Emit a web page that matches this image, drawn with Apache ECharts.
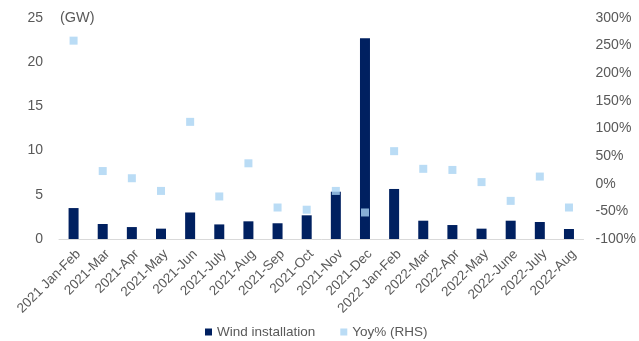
<!DOCTYPE html>
<html>
<head>
<meta charset="utf-8">
<script src="https://cdn.jsdelivr.net/npm/echarts@6/dist/echarts.min.js"></script>
<style>
  html, body { margin: 0; padding: 0; background: #ffffff; }
  #chart { width: 639px; height: 341px; }
</style>
</head>
<body>
<div id="chart"></div>
<script>
// Monthly wind installations (GW) and year-on-year change (%)
const categories = [
  '2021 Jan-Feb', '2021-Mar', '2021-Apr', '2021-May', '2021-Jun', '2021-July',
  '2021-Aug', '2021-Sep', '2021-Oct', '2021-Nov', '2021-Dec', '2022 Jan-Feb',
  '2022-Mar', '2022-Apr', '2022-May', '2022-June', '2022-July', '2022-Aug'
];
const windInstallation = [3.5, 1.7, 1.35, 1.17, 3.0, 1.65, 2.0, 1.78, 2.68, 5.35, 22.7, 5.66, 2.07, 1.58, 1.17, 2.07, 1.92, 1.13];
const yoyPct = [259, 23, 10, -13, 112, -23, 37, -43, -47, -13, -52, 59, 27, 25, 3, -31, 13, -43];

const leftTicks = { min: 0, max: 25, interval: 5 };
const rightTicks = { min: -100, max: 300, interval: 50 };

const textColor = '#595959';
const fontFamily = '"Liberation Sans", Arial, sans-serif';

const chart = echarts.init(document.getElementById('chart'), null, { renderer: 'canvas' });
chart.setOption({
  animation: false,
  backgroundColor: '#ffffff',
  textStyle: { fontFamily: fontFamily, color: textColor },
  grid: { left: 59, right: 51, top: 18, bottom: 102, containLabel: false },
  legend: {
    left: 200,
    top: 320,
    itemWidth: 7,
    itemHeight: 7,
    itemGap: 25,
    icon: 'rect',
    textStyle: { fontSize: 13.5, color: textColor, fontFamily: fontFamily },
    data: ['Wind installation', 'Yoy% (RHS)']
  },
  graphic: [{
    type: 'text',
    left: 60,
    top: 10,
    style: { text: '(GW)', fontSize: 14.5, fill: textColor, fontFamily: fontFamily }
  }],
  xAxis: {
    type: 'category',
    data: categories,
    axisLine: { lineStyle: { color: '#d9d9d9', width: 1 } },
    axisTick: { show: false },
    axisLabel: {
      interval: 0,
      rotate: 45,
      margin: 8,
      verticalAlign: 'top',
      fontSize: 13.5,
      color: textColor,
      fontFamily: fontFamily
    }
  },
  yAxis: [{
    type: 'value',
    min: leftTicks.min,
    max: leftTicks.max,
    interval: leftTicks.interval,
    splitLine: { show: false },
    axisLine: { show: false },
    axisTick: { show: false },
    axisLabel: { margin: 16, fontSize: 14, color: textColor, fontFamily: fontFamily }
  }, {
    type: 'value',
    min: rightTicks.min,
    max: rightTicks.max,
    interval: rightTicks.interval,
    splitLine: { show: false },
    axisLine: { show: false },
    axisTick: { show: false },
    axisLabel: { margin: 12, fontSize: 14, color: textColor, fontFamily: fontFamily, formatter: '{value}%' }
  }],
  series: [{
    name: 'Wind installation',
    type: 'bar',
    yAxisIndex: 0,
    data: windInstallation,
    barWidth: 10,
    itemStyle: { color: '#002060' },
    z: 2
  }, {
    name: 'Yoy% (RHS)',
    type: 'scatter',
    yAxisIndex: 1,
    data: yoyPct,
    symbol: 'rect',
    symbolSize: 8,
    itemStyle: { color: '#a9d3f2' },
    z: 3
  }]
});
</script>
</body>
</html>
